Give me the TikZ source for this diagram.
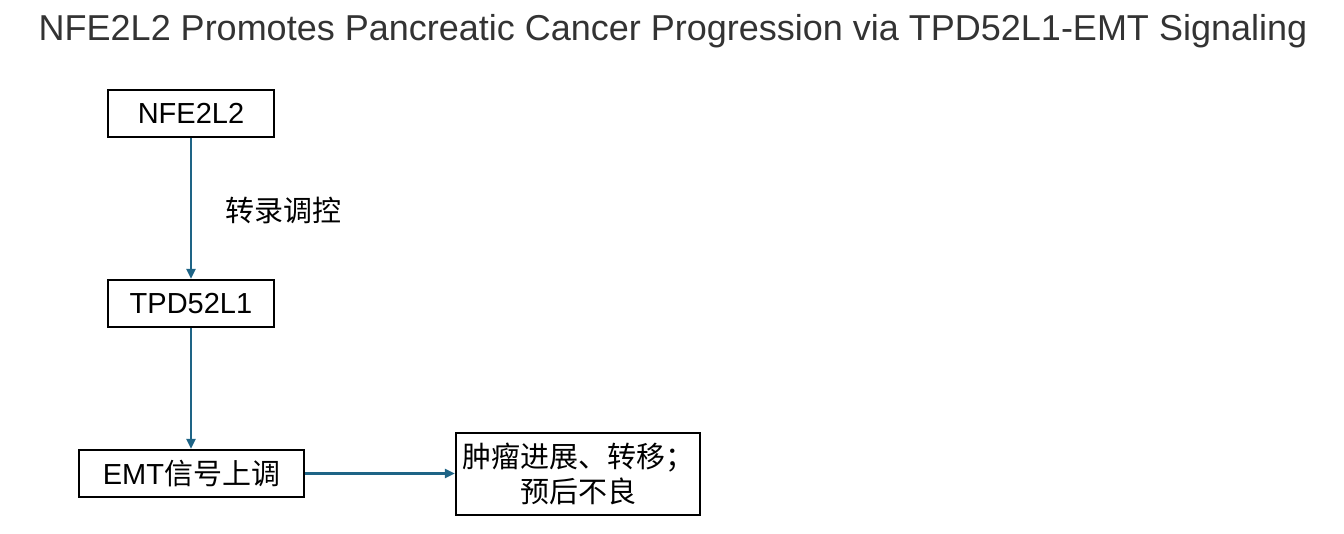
\documentclass[tikz,border=0pt]{standalone}
\usepackage{fontspec}
\setmainfont{Liberation Sans}
\newfontfamily\cjk{Noto Sans CJK SC}
\usetikzlibrary{arrows.meta}
\definecolor{arrowblue}{HTML}{1E6486}
\definecolor{titlegray}{HTML}{333333}
\tikzset{
  box/.style={draw=black, line width=2.4pt, fill=white, inner sep=0pt, align=center,
    font=\fontsize{29}{35}\selectfont},
  conn/.style={draw=arrowblue, line width=2.4pt, -{Triangle[length=10pt,width=9pt]}},
  lbl/.style={font=\fontsize{29}{35}\selectfont, inner sep=0pt}
}
\begin{document}
\begin{tikzpicture}[x=1pt,y=-1pt]
\useasboundingbox (0,0) rectangle (1344,534);
\node[font=\fontsize{36}{42}\selectfont, text=titlegray, inner sep=0pt] (title) at (673,31) {NFE2L2 Promotes Pancreatic Cancer Progression via TPD52L1-EMT Signaling};
\node[box, minimum width=166pt, minimum height=47pt] (nfe) at (191,113.5) {NFE2L2};
\node[box, minimum width=166pt, minimum height=47pt] (tpd) at (191,303.5) {TPD52L1};
\node[box, minimum width=225pt, minimum height=47pt] (emt) at (191.5,473.5) {EMT{\cjk 信号上调}};
\node[box, minimum width=244pt, minimum height=82pt] (out) at (578,474) {{\cjk 肿瘤进展、转移；}\\{\cjk 预后不良}};
\node[lbl] (l1) at (283,210) {\cjk 转录调控};
\draw[conn] (nfe.south) -- (tpd.north);
\draw[conn] (tpd.south) -- (tpd.south |- emt.north);
\draw[conn] (emt.east) -- (emt.east -| out.west);
\end{tikzpicture}
\end{document}
